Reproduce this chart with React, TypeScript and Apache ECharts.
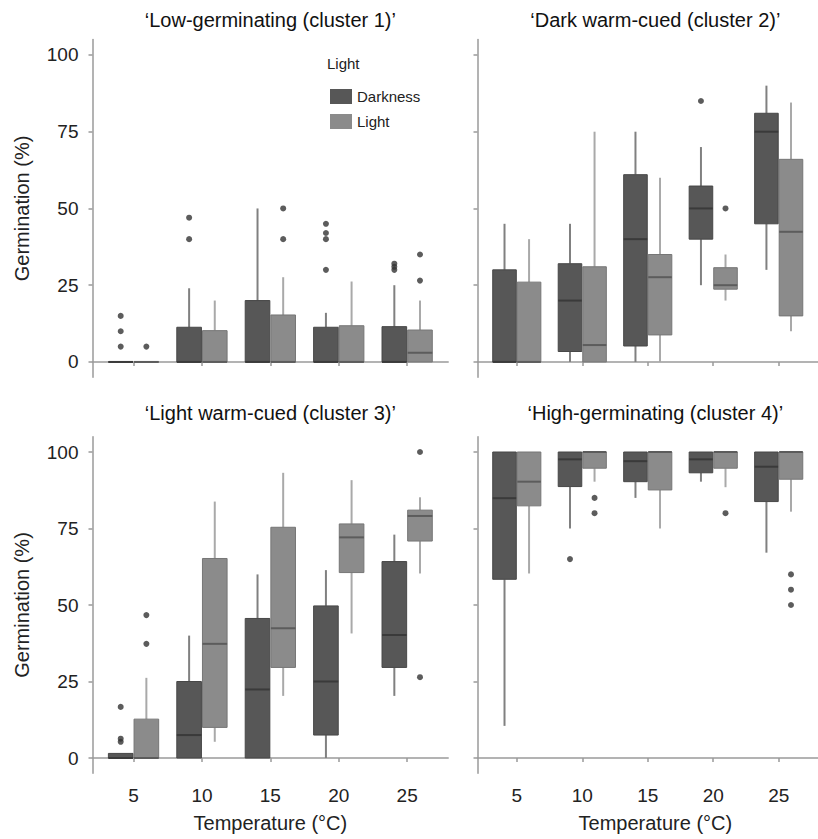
import React, { useEffect, useRef } from "react";
import * as echarts from "echarts";

const temperatures = ["5", "10", "15", "20", "25"];
const yTicks = [0, 25, 50, 75, 100];
const panelTitles = [
  "\u2018Low-germinating (cluster 1)\u2019",
  "\u2018Dark warm-cued (cluster 2)\u2019",
  "\u2018Light warm-cued (cluster 3)\u2019",
  "\u2018High-germinating (cluster 4)\u2019",
];

// [lower whisker, q1, median, q3, upper whisker] for 5,10,15,20,25 °C
const c1Dark = [[0, 0, 0, 0, 0], [0, 0, 0, 11.3, 24], [0, 0, 0, 20, 50], [0, 0, 0, 11.3, 16], [0, 0, 0, 11.5, 25]];
const c1Light = [[0, 0, 0, 0, 0], [0, 0, 0, 10.2, 20], [0, 0, 0, 15.3, 27.6], [0, 0, 0, 11.8, 26.2], [0, 0, 3, 10.4, 20]];
const c1DarkOut = [[1, 15], [1, 10], [1, 5], [2, 47], [2, 40], [4, 45], [4, 42], [4, 40], [4, 30], [5, 32], [5, 31], [5, 30]];
const c1LightOut = [[1, 5], [3, 50], [3, 40], [5, 35], [5, 26.5]];

const c2Dark = [[0, 0, 0, 30, 45], [0, 3.4, 20, 32, 45], [0, 5.2, 40, 61, 75], [25, 40, 50, 57.3, 70], [30, 45, 75, 81, 90]];
const c2Light = [[0, 0, 0, 26, 40], [0, 0, 5.5, 31, 75], [0, 8.8, 27.6, 35, 60], [20, 23.7, 25, 30.7, 35], [10, 15, 42.4, 66, 84.5]];
const c2DarkOut = [[4, 85]];
const c2LightOut = [[4, 50]];

const c3Dark = [[0, 0, 0, 1.5, 1.5], [0, 0, 7.5, 25, 40], [0, 0, 22.4, 45.6, 60], [0, 7.5, 25, 49.7, 61.4], [20.3, 29.6, 40.2, 64.2, 73]];
const c3Light = [[0, 0, 0, 12.7, 26.2], [5.3, 10, 37.3, 65.2, 83.8], [20.3, 29.6, 42.4, 75.4, 93.2], [40.7, 60.6, 72.1, 76.5, 90.8], [60.3, 70.9, 79.1, 81, 85.2]];
const c3DarkOut = [[1, 16.7], [1, 6.3], [1, 5.3]];
const c3LightOut = [[1, 46.7], [1, 37.3], [5, 100], [5, 26.4]];

const c4Dark = [[10.5, 58.4, 84.9, 100, 100], [75, 88.7, 97.6, 100, 100], [85, 90.3, 97, 100, 100], [90.3, 93.2, 97.6, 100, 100], [67.1, 83.8, 95.2, 100, 100]];
const c4Light = [[60.3, 82.4, 90.3, 100, 100], [90.3, 94.7, 100, 100, 100], [75, 87.6, 100, 100, 100], [88.5, 94.7, 100, 100, 100], [80.5, 91.1, 100, 100, 100]];
const c4DarkOut = [[2, 65]];
const c4LightOut = [[2, 85], [2, 80], [4, 80], [5, 60], [5, 55], [5, 50]];

const FONT = "'Liberation Sans', Arial, Helvetica, sans-serif";
const DARK = { fill: "#575757", stroke: "#474747", whisker: "#808080", median: "#3a3a3a" };
const LIGHT = { fill: "#8b8b8b", stroke: "#767676", whisker: "#a9a9a9", median: "#5c5c5c" };
const OFFSET = 0.1875;
const BOX_W = 0.36;
const AXIS_COLOR = "#9a9a9a";

const panels = [
  { title: panelTitles[0], dark: c1Dark, light: c1Light, darkOut: c1DarkOut, lightOut: c1LightOut },
  { title: panelTitles[1], dark: c2Dark, light: c2Light, darkOut: c2DarkOut, lightOut: c2LightOut },
  { title: panelTitles[2], dark: c3Dark, light: c3Light, darkOut: c3DarkOut, lightOut: c3LightOut },
  { title: panelTitles[3], dark: c4Dark, light: c4Light, darkOut: c4DarkOut, lightOut: c4LightOut },
];

const layout = [
  { left: 92.5, top: 39.6, width: 355.7, height: 337.7, yLabels: true, xLabels: false },
  { left: 477.5, top: 39.6, width: 355.7, height: 337.7, yLabels: false, xLabels: false },
  { left: 92.5, top: 436.7, width: 355.7, height: 336.6, yLabels: true, xLabels: true },
  { left: 477.5, top: 436.7, width: 355.7, height: 336.6, yLabels: false, xLabels: true },
];

function makeRender(offset: number, c: typeof DARK) {
  return (params: any, api: any) => {
    const x = api.value(0) + offset;
    const low = api.value(1);
    const q1 = api.value(2);
    const med = api.value(3);
    const q3 = api.value(4);
    const high = api.value(5);
    const tl = api.coord([x - BOX_W / 2, q3]);
    const br = api.coord([x + BOX_W / 2, q1]);
    const cHigh = api.coord([x, high]);
    const cLow = api.coord([x, low]);
    const cMed = api.coord([x, med]);
    return {
      type: "group",
      children: [
        { type: "line", shape: { x1: cHigh[0], y1: cHigh[1], x2: cHigh[0], y2: tl[1] }, style: { stroke: c.whisker, lineWidth: 2 } },
        { type: "line", shape: { x1: cLow[0], y1: cLow[1], x2: cLow[0], y2: br[1] }, style: { stroke: c.whisker, lineWidth: 2 } },
        { type: "rect", shape: { x: tl[0], y: tl[1], width: br[0] - tl[0], height: br[1] - tl[1] }, style: { fill: c.fill, stroke: c.stroke, lineWidth: 1 } },
        { type: "line", shape: { x1: tl[0], y1: cMed[1], x2: br[0], y2: cMed[1] }, style: { stroke: c.median, lineWidth: 2 } },
      ],
    };
  };
}

export default function App() {
  const ref = useRef<HTMLDivElement>(null);
  useEffect(() => {
    const chart = echarts.init(ref.current as HTMLDivElement, null, { renderer: "svg" });
    const grid: any[] = [];
    const xAxis: any[] = [];
    const yAxis: any[] = [];
    const series: any[] = [];
    const graphic: any[] = [];
    panels.forEach((p, i) => {
      const L = layout[i];
      grid.push({ left: L.left, top: L.top, width: L.width, height: L.height, containLabel: false });
      xAxis.push({
        gridIndex: i, type: "value", min: 0.4, max: 5.6,
        axisLine: { show: true, lineStyle: { color: AXIS_COLOR, width: 1.5 } },
        axisTick: { show: true, customValues: [1, 2, 3, 4, 5], length: 4, lineStyle: { color: AXIS_COLOR, width: 1.5 } },
        axisLabel: { show: L.xLabels, customValues: [1, 2, 3, 4, 5], formatter: (v: number) => temperatures[Math.round(v) - 1], fontSize: 19, color: "#222", margin: 13, fontFamily: FONT },
        splitLine: { show: false },
      });
      yAxis.push({
        gridIndex: i, type: "value", min: -5, max: 105,
        axisLine: { show: true, lineStyle: { color: AXIS_COLOR, width: 1.5 } },
        axisTick: { show: true, customValues: yTicks, length: 4, lineStyle: { color: AXIS_COLOR, width: 1.5 } },
        axisLabel: { show: L.yLabels, customValues: yTicks, fontSize: 19, color: "#222", margin: 14, fontFamily: FONT },
        splitLine: { show: false },
      });
      series.push({
        type: "custom", name: "Darkness", xAxisIndex: i, yAxisIndex: i,
        itemStyle: { color: DARK.fill },
        renderItem: makeRender(-OFFSET, DARK),
        encode: { x: 0, y: [1, 2, 3, 4, 5] },
        data: p.dark.map((d, k) => [k + 1, ...d]),
      });
      series.push({
        type: "custom", name: "Light", xAxisIndex: i, yAxisIndex: i,
        itemStyle: { color: LIGHT.fill },
        renderItem: makeRender(OFFSET, LIGHT),
        encode: { x: 0, y: [1, 2, 3, 4, 5] },
        data: p.light.map((d, k) => [k + 1, ...d]),
      });
      series.push({
        type: "scatter", name: "Darkness outliers", xAxisIndex: i, yAxisIndex: i,
        symbolSize: 6, itemStyle: { color: "#333" },
        data: p.darkOut.map((d) => [d[0] - OFFSET, d[1]]),
      });
      series.push({
        type: "scatter", name: "Light outliers", xAxisIndex: i, yAxisIndex: i,
        symbolSize: 6, itemStyle: { color: "#333" },
        data: p.lightOut.map((d) => [d[0] + OFFSET, d[1]]),
      });
      graphic.push({
        type: "text", x: L.left + L.width / 2, y: i < 2 ? 20 : 413,
        style: { text: p.title, font: `20px ${FONT}`, fill: "#111", textAlign: "center", textVerticalAlign: "middle" },
      });
      if (L.yLabels) {
        graphic.push({
          type: "text", x: 22, y: L.top + L.height / 2, rotation: Math.PI / 2,
          style: { text: "Germination (%)", font: `20px ${FONT}`, fill: "#222", textAlign: "center", textVerticalAlign: "middle" },
        });
      }
      if (L.xLabels) {
        graphic.push({
          type: "text", x: L.left + 355.7 / 2, y: 823,
          style: { text: "Temperature (\u00B0C)", font: `20px ${FONT}`, fill: "#222", textAlign: "center", textVerticalAlign: "middle" },
        });
      }
    });
    graphic.push({
      type: "text", x: 327, y: 63,
      style: { text: "Light", font: `15px ${FONT}`, fill: "#222", textAlign: "left", textVerticalAlign: "middle" },
    });
    chart.setOption({
      animation: false,
      backgroundColor: "#fff",
      grid, xAxis, yAxis, series, graphic,
      legend: {
        data: ["Darkness", "Light"], orient: "vertical", left: 325, top: 84,
        itemWidth: 22, itemHeight: 15, itemGap: 10, icon: "rect", selectedMode: false,
        textStyle: { fontSize: 15, color: "#222", fontFamily: FONT },
      },
    });
    return () => chart.dispose();
  }, []);
  return <div ref={ref} style={{ position: "fixed", left: 0, top: 0, width: 818, height: 839, background: "#fff" }} />;
}
